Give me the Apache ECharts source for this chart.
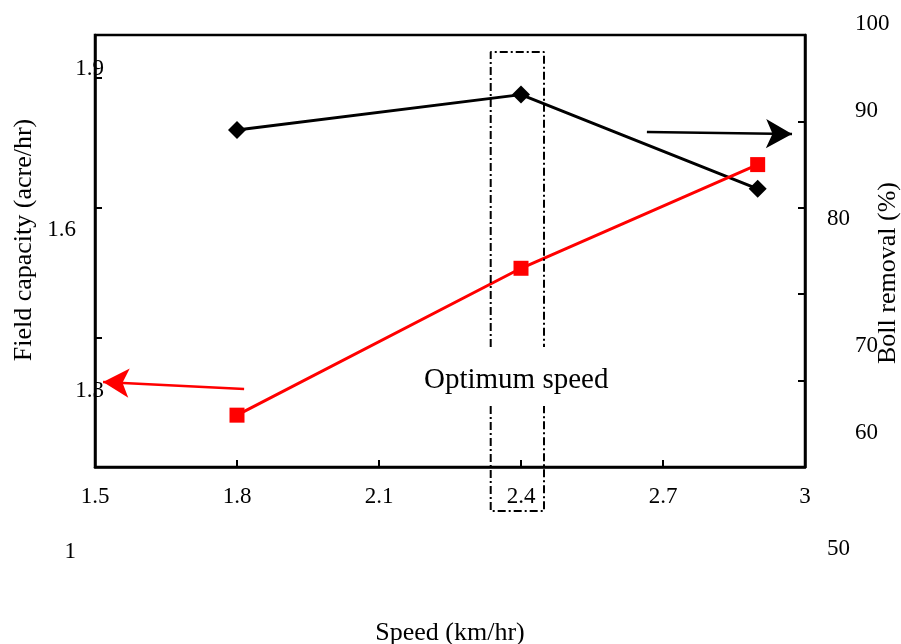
<!DOCTYPE html>
<html>
<head>
<meta charset="utf-8">
<script src="https://cdn.jsdelivr.net/npm/echarts@6/dist/echarts.min.js"></script>
<style>
html,body{margin:0;padding:0;background:#fff;}
#chart{width:901px;height:644px;}
</style>
</head>
<body>
<div id="chart"></div>
<script>
// ---- data ----
const speed = [1.8, 2.4, 2.9];                 // km/hr
const fieldCapacity = [1.12, 1.46, 1.70];      // acre/hr (left axis)
const bollRemoval = [89.0, 93.1, 82.2];        // % (right axis)

const xTickLabels = ['1.5', '1.8', '2.1', '2.4', '2.7', '3'];
const leftTickLabels = ['1', '1.3', '1.6', '1.9'];
const rightTickLabels = ['50', '60', '70', '80', '90', '100'];
// values (in the right label scale) at which the right labels are printed
const rightLabelAnchors = [50, 61.05, 69.33, 81.43, 91.71, 100];

// annotation geometry (data units)
const optimumBox = { x0: 2.336, x1: 2.4486, yTop: 1.9606, yGapTop: 1.2778, yGapBottom: 1.1412, yBottom: 0.8981 };
const redArrow = { from: [1.815, 1.1806], to: [1.517, 1.197] };
const blackArrow = { from: [2.666, 88.77], to: [2.9726, 88.54] };

const FONT = 'Liberation Serif, Times New Roman, serif';
const chart = echarts.init(document.getElementById('chart'), null, { renderer: 'canvas' });

const axisLineStyle = { show: true, lineStyle: { color: '#000', width: 2.5 } };
const tickStyle = { show: true, inside: true, length: 7, lineStyle: { color: '#000', width: 2 } };

const option = {
  animation: false,
  backgroundColor: '#fff',
  grid: [
    { left: 95, right: 96, top: 35, bottom: 177, outerBoundsMode: 'none', containLabel: false,
      show: true, borderColor: '#000', borderWidth: 2.5, backgroundColor: 'transparent' },
    { left: 95, right: 96, top: 69, bottom: 92, outerBoundsMode: 'none', containLabel: false },
    { left: 95, right: 96, top: 24, bottom: 95, outerBoundsMode: 'none', containLabel: false }
  ],
  xAxis: [
    {
      gridIndex: 0, type: 'value', min: 1.5, max: 3, interval: 0.3,
      axisLine: axisLineStyle, axisTick: tickStyle, splitLine: { show: false },
      axisLabel: { color: '#000', fontFamily: FONT, fontSize: 23, margin: 18,
        formatter: (v, i) => xTickLabels[i] },
      name: 'Speed (km/hr)', nameLocation: 'middle', nameGap: 153,
      nameTextStyle: { color: '#000', fontFamily: FONT, fontSize: 26 }
    },
    { gridIndex: 1, type: 'value', min: 0, max: 1, show: false },
    { gridIndex: 2, type: 'value', min: 0, max: 1, show: false }
  ],
  yAxis: [
    {
      gridIndex: 0, type: 'value', position: 'left', min: 1, max: 2, interval: 0.3,
      axisLine: axisLineStyle, axisTick: tickStyle, splitLine: { show: false },
      axisLabel: { show: false },
      name: 'Field capacity (acre/hr)', nameLocation: 'middle', nameRotate: 90, nameGap: 58,
      nameTextStyle: { color: '#000', fontFamily: FONT, fontSize: 26, padding: [0, 0, 0, 22] }
    },
    {
      gridIndex: 0, type: 'value', position: 'right', min: 50, max: 100, interval: 10,
      axisLine: axisLineStyle, axisTick: tickStyle, splitLine: { show: false },
      axisLabel: { show: false },
      name: 'Boll removal (%)', nameLocation: 'middle', nameRotate: 90, nameGap: 70,
      nameTextStyle: { color: '#000', fontFamily: FONT, fontSize: 26, padding: [0, 44, 0, 0] }
    },
    {
      gridIndex: 1, type: 'value', position: 'left', min: 1, max: 1.9, interval: 0.3,
      axisLine: { show: false }, axisTick: { show: false }, splitLine: { show: false },
      axisLabel: {
        color: '#000', fontFamily: FONT, fontSize: 23, margin: -9, align: 'right',
        formatter: (v, i) => (i % 2 === 0 ? '{w|' : '{n|') + leftTickLabels[i] + '}',
        rich: {
          n: { color: '#000', fontFamily: FONT, fontSize: 23 },
          w: { color: '#000', fontFamily: FONT, fontSize: 23, padding: [0, 28, 0, 0] }
        }
      }
    },
    {
      gridIndex: 2, type: 'value', position: 'right', min: 50, max: 100,
      axisLine: { show: false }, axisTick: { show: false }, splitLine: { show: false },
      axisLabel: {
        customValues: rightLabelAnchors,
        color: '#000', fontFamily: FONT, fontSize: 23, margin: 22, align: 'left',
        formatter: (v, i) => {
          const k = rightLabelAnchors.indexOf(v);
          const idx = k >= 0 ? k : i;
          return (idx === 0 || idx === 3 ? '{n|' : '{w|') + rightTickLabels[idx] + '}';
        },
        rich: {
          n: { color: '#000', fontFamily: FONT, fontSize: 23 },
          w: { color: '#000', fontFamily: FONT, fontSize: 23, padding: [0, 0, 0, 28] }
        }
      }
    }
  ],
  series: [
    {
      name: 'Boll removal', type: 'line', xAxisIndex: 0, yAxisIndex: 1,
      data: speed.map((s, i) => [s, bollRemoval[i]]),
      symbol: 'diamond', symbolSize: 18, color: '#000',
      itemStyle: { color: '#000' }, lineStyle: { color: '#000', width: 3 },
      markLine: {
        silent: true, symbol: ['none', 'arrow'], symbolSize: [22, 26],
        label: { show: false },
        lineStyle: { color: '#000', width: 2.5, type: 'solid' },
        data: [[{ coord: blackArrow.from }, { coord: blackArrow.to }]]
      }
    },
    {
      name: 'Field capacity', type: 'line', xAxisIndex: 0, yAxisIndex: 0,
      data: speed.map((s, i) => [s, fieldCapacity[i]]),
      symbol: 'rect', symbolSize: 15, color: '#ff0000',
      itemStyle: { color: '#ff0000' }, lineStyle: { color: '#ff0000', width: 3 },
      markLine: {
        silent: true, symbol: ['none', 'arrow'], symbolSize: [22, 26],
        label: { show: false },
        lineStyle: { color: '#ff0000', width: 2.5, type: 'solid' },
        data: [[{ coord: redArrow.from }, { coord: redArrow.to }]]
      }
    },
    {
      name: 'box-upper', type: 'line', xAxisIndex: 0, yAxisIndex: 0, clip: false,
      symbol: 'none', silent: true,
      lineStyle: { color: '#000', width: 2, type: [8, 3, 2, 3] },
      data: [[optimumBox.x0, optimumBox.yGapTop], [optimumBox.x0, optimumBox.yTop],
             [optimumBox.x1, optimumBox.yTop], [optimumBox.x1, optimumBox.yGapTop]]
    },
    {
      name: 'box-lower', type: 'line', xAxisIndex: 0, yAxisIndex: 0, clip: false,
      symbol: 'none', silent: true,
      lineStyle: { color: '#000', width: 2, type: [8, 3, 2, 3] },
      data: [[optimumBox.x0, optimumBox.yGapBottom], [optimumBox.x0, optimumBox.yBottom],
             [optimumBox.x1, optimumBox.yBottom], [optimumBox.x1, optimumBox.yGapBottom]]
    }
  ],
  graphic: [
    { type: 'text', left: 424, top: 366,
      style: { text: 'Optimum speed', fill: '#000', font: '29px ' + FONT } }
  ]
};
chart.setOption(option);
</script>
</body>
</html>
